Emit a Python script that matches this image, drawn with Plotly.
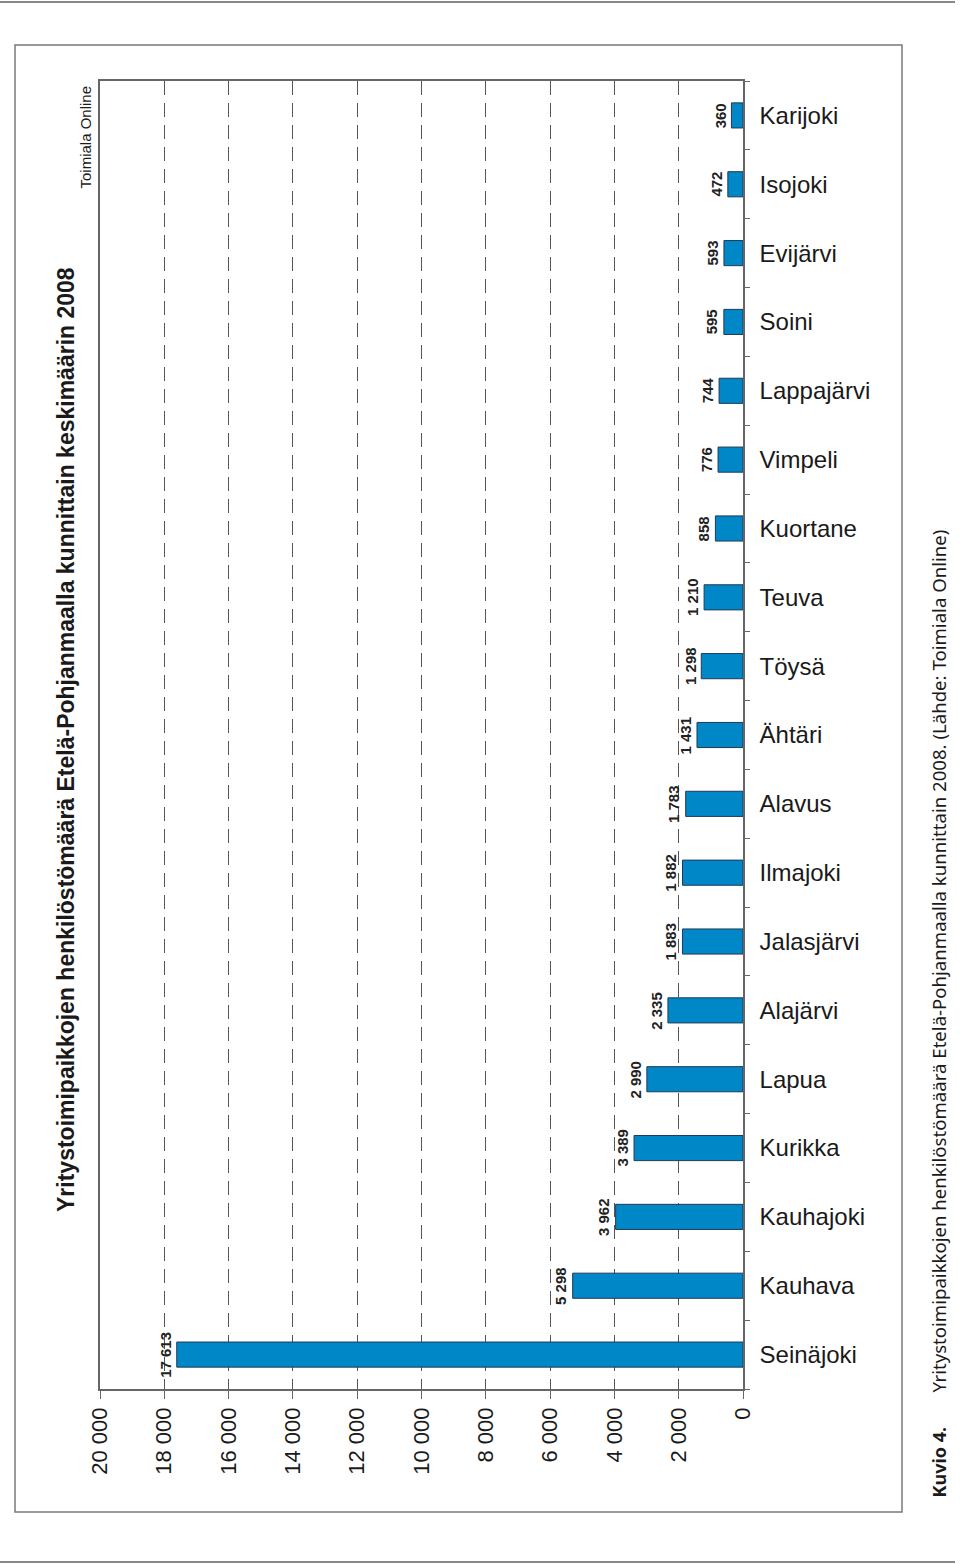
import plotly.graph_objects as go

categories = ["Seinäjoki", "Kauhava", "Kauhajoki", "Kurikka", "Lapua", "Alajärvi",
              "Jalasjärvi", "Ilmajoki", "Alavus", "Ähtäri", "Töysä", "Teuva",
              "Kuortane", "Vimpeli", "Lappajärvi", "Soini", "Evijärvi", "Isojoki", "Karijoki"]
values = [17613, 5298, 3962, 3389, 2990, 2335, 1883, 1882, 1783, 1431, 1298, 1210,
          858, 776, 744, 595, 593, 472, 360]
tick_vals = [0, 2000, 4000, 6000, 8000, 10000, 12000, 14000, 16000, 18000, 20000]
tick_text = ["0", "2 000", "4 000", "6 000", "8 000", "10 000", "12 000", "14 000",
             "16 000", "18 000", "20 000"]

title = "Yritystoimipaikkojen henkilöstömäärä Etelä-Pohjanmaalla kunnittain keskimäärin 2008"
source = "Toimiala Online"
caption_label = "Kuvio 4."
caption = "Yritystoimipaikkojen henkilöstömäärä Etelä-Pohjanmaalla kunnittain 2008. (Lähde: Toimiala Online)"

W, H = 960, 1564
L, R, T, B = 100, 743, 81, 1389


def px(x):
    return (x - L) / (R - L)


def py(y):
    return (B - y) / (B - T)


def fmt(v):
    return f"{v:,}".replace(",", " ")


FONT = "Liberation Sans, Arial, sans-serif"

fig = go.Figure()
fig.add_trace(go.Bar(
    y=categories, x=values, orientation="h",
    marker=dict(color="#0087C8", line=dict(color="#1F3B57", width=1)),
    hoverinfo="skip",
))

for c, v in zip(categories, values):
    fig.add_annotation(x=v, y=c, xref="x", yref="y", text=f"<b>{fmt(v)}</b>", showarrow=False,
                       textangle=-90, xanchor="right", yanchor="middle", xshift=-1,
                       font=dict(family=FONT, size=15, color="#222"))

fig.update_layout(
    width=W, height=H,
    margin=dict(l=L, r=W - R, t=T, b=H - B, pad=0),
    paper_bgcolor="white", plot_bgcolor="white",
    showlegend=False,
    bargap=0.635,
    xaxis=dict(range=[20000, 0], tickvals=tick_vals, ticktext=tick_text,
               tickangle=-90, ticks="outside", ticklen=8, tickcolor="#666",
               tickfont=dict(family=FONT, size=22, color="#1a1a1a"),
               showline=True, linecolor="#666", linewidth=1.5, mirror=True,
               showgrid=True, gridcolor="#555", gridwidth=1, griddash="14px,8px",
               zeroline=False, side="bottom", fixedrange=True),
    yaxis=dict(type="category", categoryorder="array", categoryarray=categories,
               side="right", ticks="outside", ticklen=5, tickcolor="#666",
               tickson="boundaries", ticklabelstandoff=10,
               tickfont=dict(family=FONT, size=24, color="#1a1a1a"),
               showline=True, linecolor="#666", linewidth=1.5, mirror=True,
               showgrid=False, zeroline=False, range=[-0.5, len(categories) - 0.5],
               fixedrange=True),
)

# title and source
fig.add_annotation(text=f"<b>{title}</b>", xref="paper", yref="paper",
                   x=px(66), y=py(740), xanchor="center", yanchor="middle",
                   textangle=-90, showarrow=False,
                   font=dict(family=FONT, size=23, color="#1a1a1a"))
fig.add_annotation(text=source, xref="paper", yref="paper",
                   x=px(85), y=py(84), xanchor="center", yanchor="top",
                   textangle=-90, showarrow=False,
                   font=dict(family=FONT, size=15, color="#1a1a1a"))
# caption
fig.add_annotation(text=f"<b>{caption_label}</b>", xref="paper", yref="paper",
                   x=px(938), y=py(1500), xanchor="center", yanchor="bottom",
                   textangle=-90, showarrow=False,
                   font=dict(family="Noto Sans, sans-serif", size=18, color="#1a1a1a"))
fig.add_annotation(text=caption, xref="paper", yref="paper",
                   x=px(938), y=py(1395), xanchor="center", yanchor="bottom",
                   textangle=-90, showarrow=False,
                   font=dict(family="Noto Sans, sans-serif", size=18.6, color="#1a1a1a"))

# frame and page rules
fig.add_shape(type="rect", xref="paper", yref="paper",
              x0=px(15), x1=px(902), y0=py(1512), y1=py(45),
              line=dict(color="#7a7a7a", width=1.5), layer="below")
fig.add_shape(type="line", xref="paper", yref="paper",
              x0=px(0), x1=px(955), y0=py(2), y1=py(2),
              line=dict(color="#888", width=2))
fig.add_shape(type="line", xref="paper", yref="paper",
              x0=px(0), x1=px(955), y0=py(1562), y1=py(1562),
              line=dict(color="#888", width=2))

fig.write_html("out.html")
